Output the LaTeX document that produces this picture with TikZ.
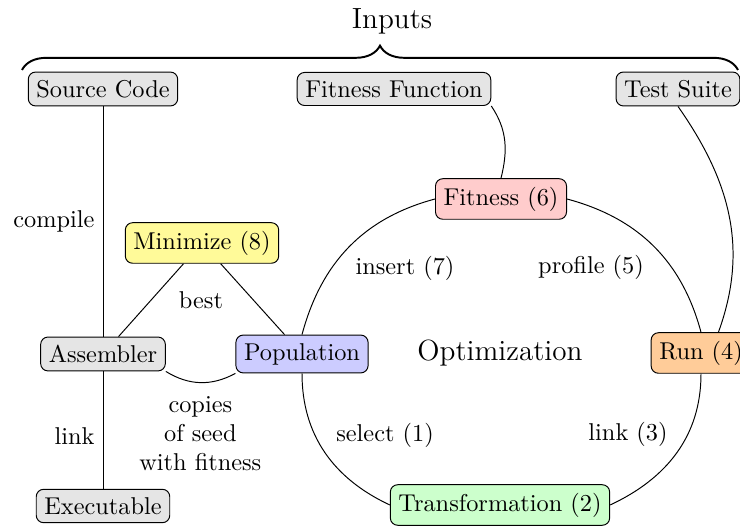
\documentclass[tikz,border=0pt]{standalone}
\usetikzlibrary{decorations.pathreplacing}
\begin{document}
\begin{tikzpicture}[x=0.411pt,y=-0.411pt,
  box/.style={draw=black, rounded corners=3pt, fill=gray!20, inner sep=3.33pt},
  conn/.style={draw=black, line width=0.4pt},
  bigtext/.style={font=\large}]
\useasboundingbox (0,0) rectangle (740,529);
% inputs
\node[bigtext] (inputs) at (392,21) {Inputs};
\coordinate (bl) at (22,70);
\coordinate (br) at (738,70);
\draw[decorate, decoration={brace, amplitude=10pt}, thick] (bl) -- (br);
\node[box] (src) at (103,89) {Source Code};
\node[box] (ff) at (394,89) {Fitness Function};
\node[box] (ts) at (678,89) {Test Suite};
% main nodes
\node[box, fill=red!20] (fit) at (501,199) {Fitness (6)};
\node[box, fill=yellow!40] (min) at (202,243) {Minimize (8)};
\node[box] (asm) at (103,354) {Assembler};
\node[box, fill=blue!20] (pop) at (302,354) {Population};
\node[bigtext] (opt) at (500,353) {Optimization};
\node[box, fill=orange!40] (run) at (701,353) {Run (4)};
\node[box] (exe) at (103,506) {Executable};
\node[box, fill=green!20] (tr) at (500,505) {Transformation (2)};
% left chain
\draw[conn] (src) -- node[left] {compile} (asm);
\draw[conn] (asm) -- node[left, pos=0.55] {link} (exe);
\draw[conn] (min) -- (asm);
\draw[conn] (min) -- (pop);
\node (best) at (201,300) {best};
\draw[conn] (asm.south east) to[bend right=30]
  node[below, align=center, yshift=-2pt] {copies\\of seed\\with fitness} (pop.south west);
% inputs to loop
\draw[conn] (ff.south east) to[out=-56, in=76] (fit.north);
\draw[conn] (ts.south) to[out=-55, in=70] (run.50);
% optimisation loop
\draw[conn] (pop.south) to[out=-90, in=155] (tr.west);
\draw[conn] (tr.east) to[out=25, in=-90] (run.south);
\draw[conn] (run.north) to[out=105, in=-15] (fit.east);
\draw[conn] (fit.west) to[out=195, in=75] (pop.north);
\node (lsel) at (385,435) {select (1)};
\node (llink) at (628,434) {link (3)};
\node (lprof) at (591,267) {profile (5)};
\node (lins) at (405,268) {insert (7)};
\end{tikzpicture}
\end{document}
